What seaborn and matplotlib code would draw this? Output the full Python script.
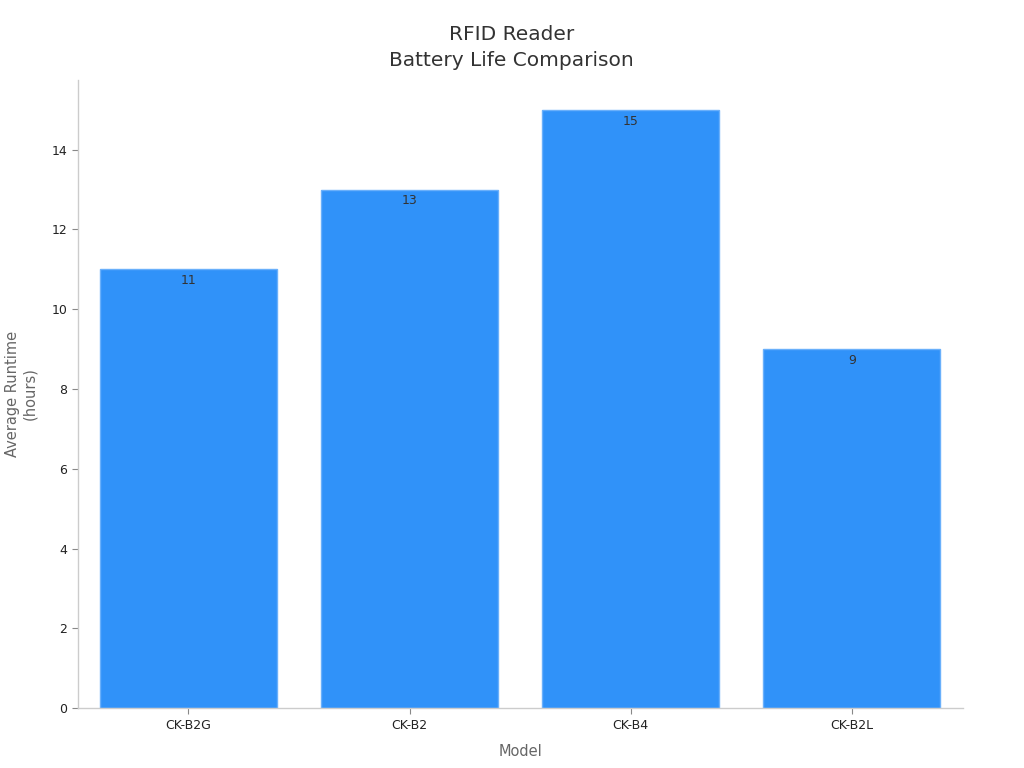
import matplotlib
matplotlib.use("Agg")
import matplotlib.pyplot as plt
import seaborn as sns
import pandas as pd

models = ["CK-B2G", "CK-B2", "CK-B4", "CK-B2L"]
runtime_hours = [11, 13, 15, 9]

BAR_COLOR = "#3092f9"


def main():
    sns.set_theme(style="white")
    plt.rcParams["font.family"] = ["DejaVu Sans"]

    data = pd.DataFrame({"Model": models, "Runtime": runtime_hours})

    fig = plt.figure(figsize=(10.24, 7.68), dpi=100)
    ax = fig.add_axes([0.076, 0.078, 0.864, 0.818])

    sns.barplot(data=data, x="Model", y="Runtime", color=BAR_COLOR,
                saturation=1, width=0.8, edgecolor="#6ab0fb", linewidth=1,
                ax=ax)

    for bar, val in zip(ax.patches, runtime_hours):
        ax.text(bar.get_x() + bar.get_width() / 2, val - 0.12, str(val),
                ha="center", va="top", fontsize=9, color="#333333")

    ax.set_xlim(-0.5, 3.5)
    ax.set_ylim(0, 15.75)
    ax.set_yticks(range(0, 15, 2))

    ax.set_xlabel("Model", fontsize=10.5, color="#666666", labelpad=9)
    ax.set_ylabel("Average Runtime\n(hours)", fontsize=10.5, color="#666666",
                  labelpad=10)
    # title sits centred on the figure, not the axes
    ax.set_title("RFID Reader\nBattery Life Comparison", fontsize=14.5,
                 color="#333333", pad=10, linespacing=1.45, x=0.4904)

    ax.tick_params(axis="both", labelsize=9, colors="#222222", length=4,
                   width=0.8, color="#888888", bottom=True, left=True)
    for side in ["top", "right"]:
        ax.spines[side].set_visible(False)
    for side in ["left", "bottom"]:
        ax.spines[side].set_color("#cccccc")
        ax.spines[side].set_linewidth(1)

    fig.savefig("out.png", dpi=100)
    plt.close(fig)


if __name__ == "__main__":
    main()
